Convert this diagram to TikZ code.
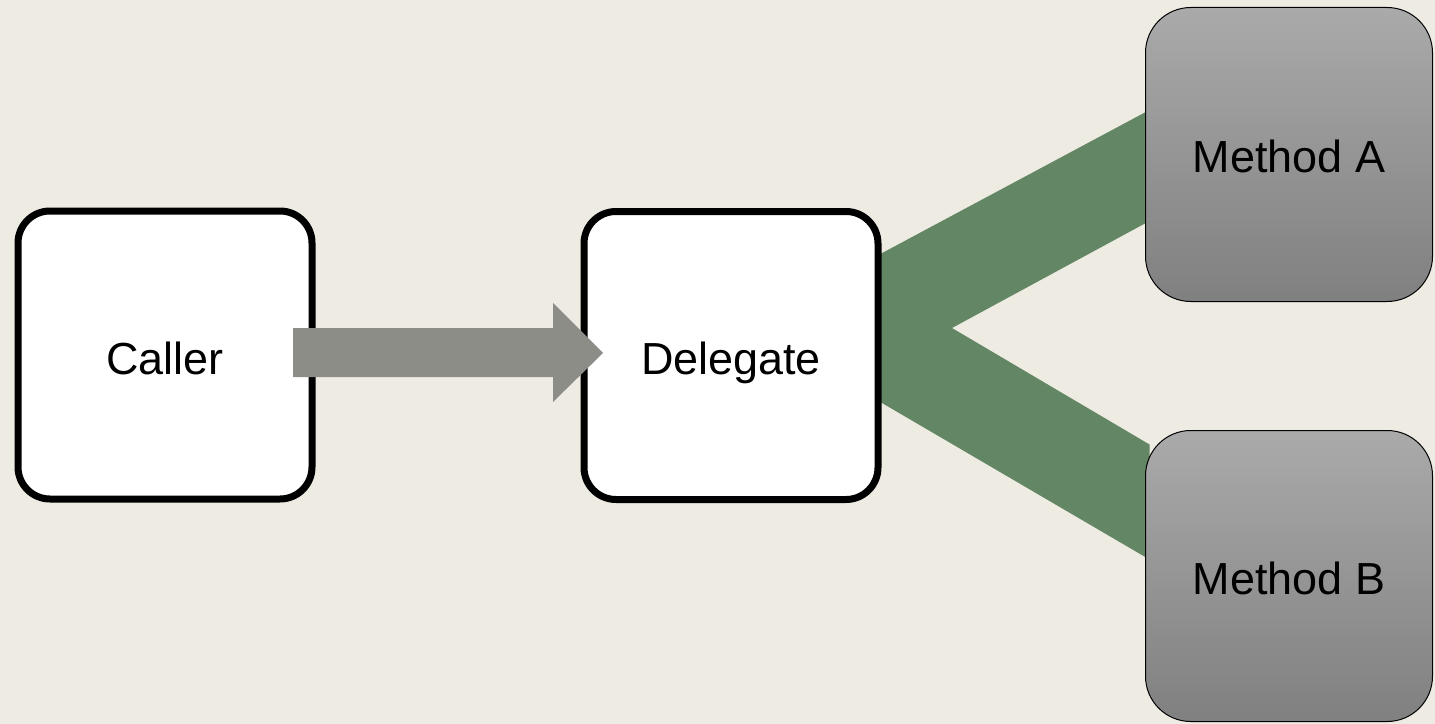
\documentclass[tikz,border=0pt]{standalone}
\usepackage{fontspec}
\setmainfont{Liberation Sans}
\usetikzlibrary{calc,backgrounds}
\definecolor{paper}{RGB}{238,235,227}
\definecolor{callgrey}{RGB}{140,141,134}
\definecolor{forkgreen}{RGB}{99,135,100}
\definecolor{mtop}{RGB}{170,170,170}
\definecolor{mbot}{RGB}{128,128,128}
\tikzset{
	plainbox/.style={draw=black, line width=5.25pt, fill=white, rounded corners=24pt,
		minimum width=220.5pt, minimum height=216pt, inner sep=0pt, outer sep=0pt,
		text height=28.5pt, text depth=0pt},
	methodbox/.style={draw=black, line width=0.75pt, top color=mtop, bottom color=mbot,
		rounded corners=34pt, minimum width=215.25pt, inner sep=0pt, outer sep=0pt,
		text height=27pt, text depth=0pt}
}
\begin{document}
\begin{tikzpicture}[x=0.75pt, y=-0.75pt, font=\fontsize{33.7}{40}\selectfont, line join=round]
	\useasboundingbox (0,0) rectangle (1435,724);
	\node[plainbox] (Caller) at (165,355) {Caller};
	\node[plainbox] (Delegate) at (731,355.5) {Delegate};
	\node[methodbox, minimum height=220.5pt] (MA) at (1289,154.5) {Method A};
	\node[methodbox, minimum height=218.25pt] (MB) at (1289,576) {Method B};
	% call arrow, laid over both borders
	\fill[callgrey] ($(Caller.east)+(-19,-27)$) -- ($(Delegate.west)+(-31,-27.5)$)
		-- ($(Delegate.west)+(-31,-52.5)$) -- ($(Delegate.west)+(19,-2.5)$)
		-- ($(Delegate.west)+(-31,46.5)$) -- ($(Delegate.west)+(-31,21.5)$)
		-- ($(Caller.east)+(-19,22)$) -- cycle;
	\begin{scope}[on background layer]
		\fill[paper] (0,0) rectangle (1435,724);
		% fork from the delegate to both methods
		\fill[forkgreen] ($(Delegate.east)+(-8,-96)$) -- ($(MA.west)+(4,-44.5)$)
			-- ($(MA.west)+(4,66.5)$) -- ($(Delegate.east)+(74,-27.5)$)
			-- ($(MB.west)+(4,-131.5)$) -- ($(MB.west)+(4,-16.5)$)
			-- ($(Delegate.east)+(-8,40.5)$) -- cycle;
	\end{scope}
	%\draw[red] (Delegate.east)--(MA.west);
\end{tikzpicture}
\end{document}
